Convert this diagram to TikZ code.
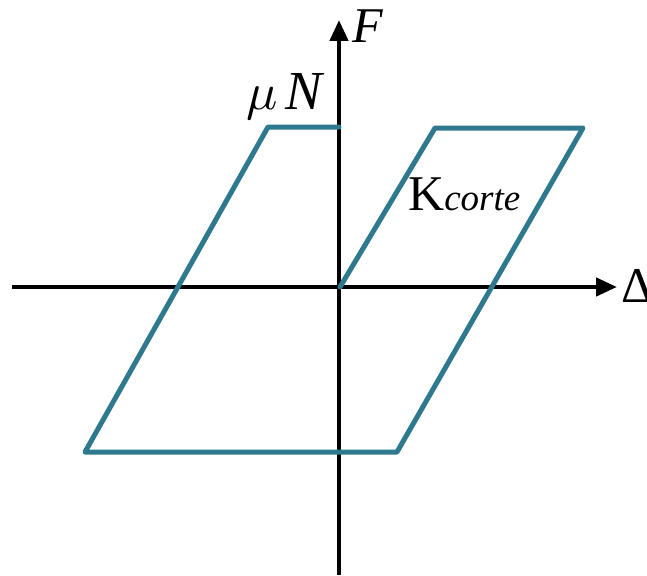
\documentclass[tikz,border=0pt]{standalone}
\usepackage{graphicx}
\usepackage{fontspec}
\setmainfont{Liberation Serif}
\usepackage{xcolor}
\definecolor{cboucle}{RGB}{47, 121, 143}
\usetikzlibrary{arrows.meta}
\tikzset{
  axe/.style={line width=4.5pt, black, -{Triangle[length=21pt,width=18pt]}},
  boucle/.style={line width=5pt, cboucle, line join=round, line cap=round},
  etiq/.style={inner sep=0pt, anchor=base west, font=\fontsize{50}{52}\selectfont}
}
\newcommand{\grandmu}{\scalebox{5.2}{\fontsize{10}{12}\selectfont$\mu$}}

\begin{document}
\begin{tikzpicture}[x=1pt, y=-1pt]
    \useasboundingbox[fill=white] (0,0) rectangle (647,575);
    % axes
    \coordinate (xg) at (12,287);
    \coordinate (xd) at (617,287);
    \coordinate (yb) at (339,575);
    \coordinate (yh) at (339,20);
    \coordinate (O) at (340,287);
    % loop corners
    \coordinate (a1) at (435,128);
    \coordinate (a2) at (583,128);
    \coordinate (a3) at (397,452);
    \coordinate (a4) at (85,452);
    \coordinate (a5) at (268,127);
    \coordinate (a6) at (339,127);

    \draw[axe] (xg) -- (xd);
    \draw[axe] (yb) -- (yh);
    \draw[boucle] (O) -- (a1) -- (a2) -- (a3) -- (a4) -- (a5) -- (a6);

    \node[etiq] (lblF) at (352,43) {\textit{F}};
    \node[etiq] (lblD) at (621,302) {Δ};
    \node[etiq] (lblmuN) at (246,110) {\grandmu\,{\fontsize{55}{58}\selectfont\textit{N}}};
    \node[etiq] (lblK) at (408,210) {K{\fontsize{37}{40}\selectfont\itshape corte}};
  \end{tikzpicture}
\end{document}
